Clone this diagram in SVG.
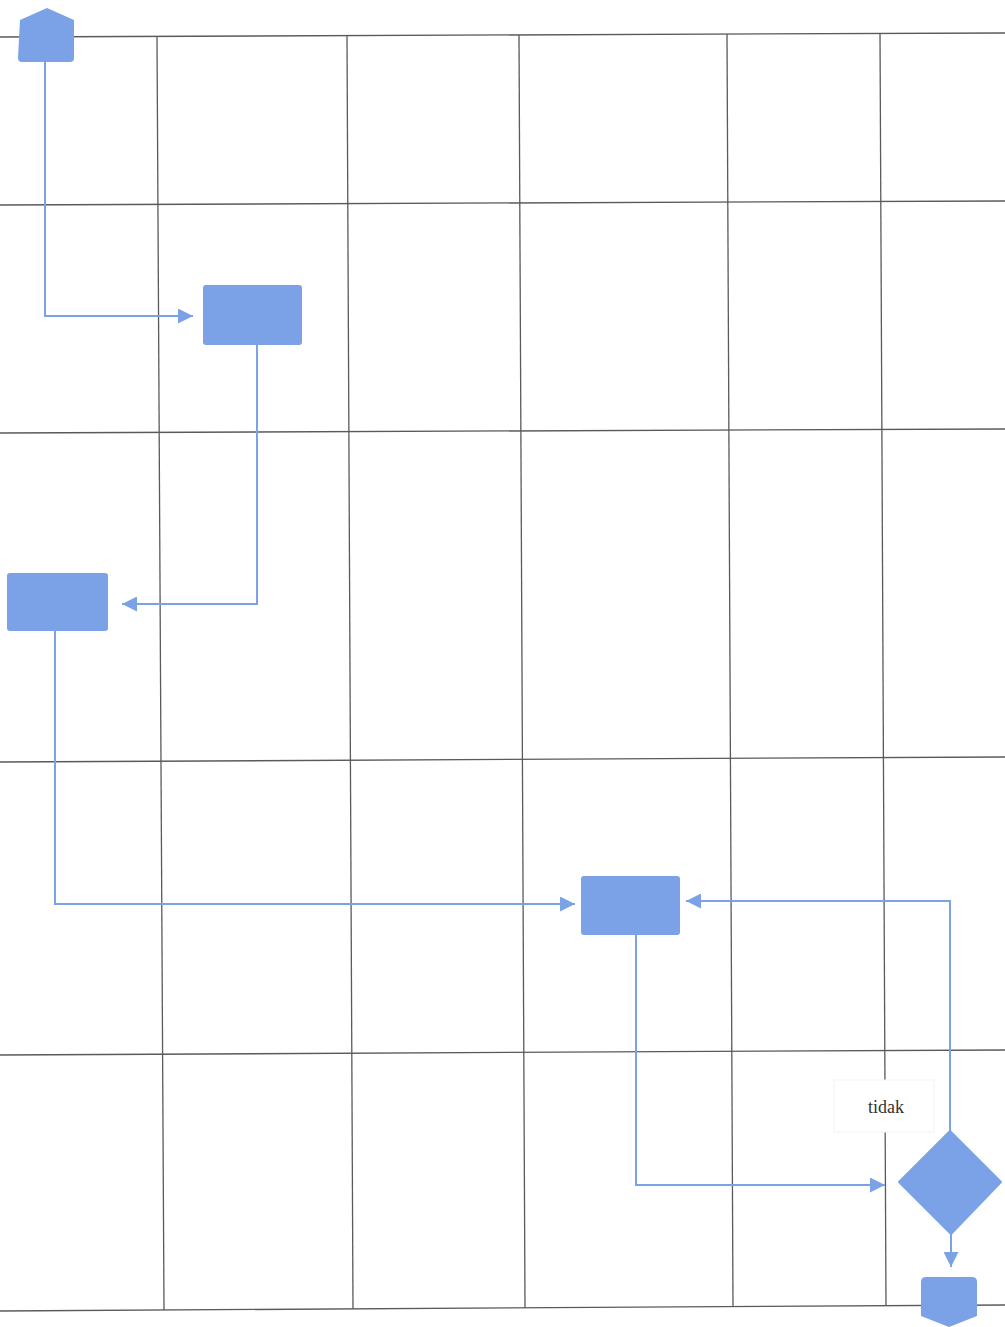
<svg xmlns="http://www.w3.org/2000/svg" width="1005" height="1327" viewBox="0 0 1005 1327">
<defs>
<style>
.grid{stroke:#5a5a5a;stroke-width:1.3;fill:none}
.node{fill:#7ba2e6}
.conn{stroke:#7ba2e6;stroke-width:2;fill:none}
.lbl{font-family:"Liberation Serif",serif;font-size:18px;fill:#333}
</style>
<marker id="arr" viewBox="0 0 10 10" refX="10" refY="5" markerWidth="16" markerHeight="15" markerUnits="userSpaceOnUse" orient="auto">
<path d="M0,0 L10,5 L0,10 z" fill="#7ba2e6"/>
</marker>
</defs>
<rect width="1005" height="1327" fill="#ffffff"/>
<g id="grid">
<line class="grid" x1="0" y1="37" x2="1005" y2="33"/>
<line class="grid" x1="0" y1="205" x2="1005" y2="201"/>
<line class="grid" x1="0" y1="433" x2="1005" y2="429"/>
<line class="grid" x1="0" y1="762" x2="1005" y2="757"/>
<line class="grid" x1="0" y1="1055" x2="1005" y2="1050"/>
<line class="grid" x1="0" y1="1311" x2="1005" y2="1305"/>
<line class="grid" x1="157" y1="37" x2="164" y2="1310"/>
<line class="grid" x1="347" y1="36" x2="353" y2="1309"/>
<line class="grid" x1="519" y1="35" x2="525" y2="1308"/>
<line class="grid" x1="727" y1="34" x2="733" y2="1307"/>
<line class="grid" x1="880" y1="33" x2="886" y2="1306"/>
</g>
<g id="connectors">
<polyline class="conn" points="45,62 45,316 193,316" marker-end="url(#arr)"/>
<polyline class="conn" points="257,345 257,604 122,604" marker-end="url(#arr)"/>
<polyline class="conn" points="55,631 55,904 575,904" marker-end="url(#arr)"/>
<polyline class="conn" points="636,935 636,1185 885,1185" marker-end="url(#arr)"/>
<polyline class="conn" points="950,1132 950,901 686,901" marker-end="url(#arr)"/>
<polyline class="conn" points="951,1234 951,1267" marker-end="url(#arr)"/>
</g>
<g id="start">
<path class="node" d="M20,20 L47,8 L74,20 L74,58 Q74,62 70,62 L22,62 Q18,62 18,58 Z"/>
</g>
<g id="rect1">
<rect class="node" x="203" y="285" width="99" height="60" rx="3"/>
</g>
<g id="rect2">
<rect class="node" x="7" y="573" width="101" height="58" rx="3"/>
</g>
<g id="rect3">
<rect class="node" x="581" y="876" width="99" height="59" rx="3"/>
</g>
<g id="decision">
<path class="node" d="M950,1131 L1001,1182 L951,1234 L899,1182 Z" stroke="#7ba2e6" stroke-width="2" stroke-linejoin="round"/>
</g>
<g id="label-tidak">
<rect x="834" y="1080" width="100" height="52" fill="#ffffff" stroke="#f3f3f3" stroke-width="1"/>
<text class="lbl" x="886" y="1113" text-anchor="middle">tidak</text>
</g>
<g id="end">
<path class="node" d="M921,1282 Q921,1277 926,1277 L972,1277 Q977,1277 977,1282 L977,1316 L949,1327 L921,1316 Z"/>
</g>
</svg>
